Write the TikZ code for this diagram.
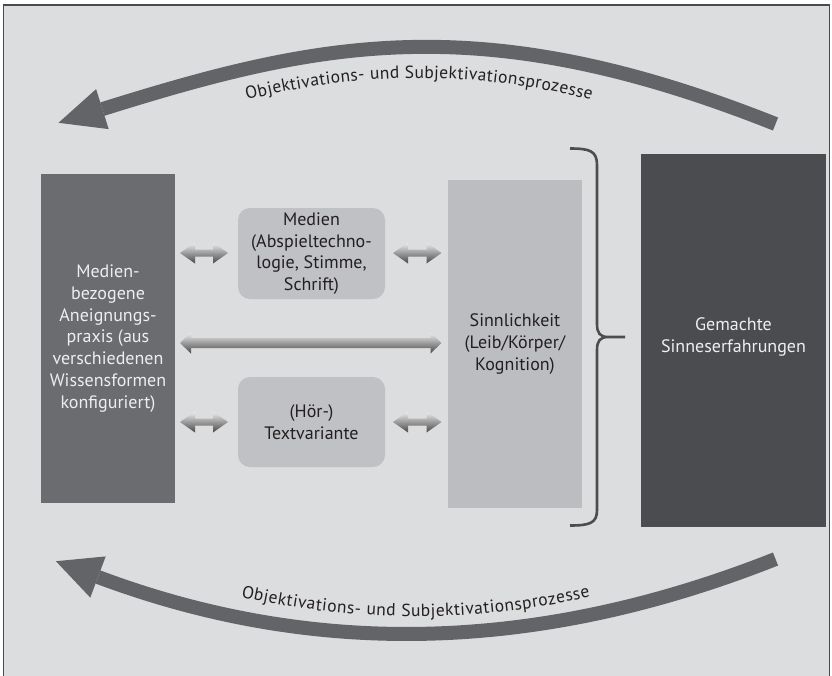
\documentclass[tikz,border=0pt]{standalone}
\usepackage{fontspec}
\setmainfont{PT Sans}
\usetikzlibrary{decorations.text,calc}
\definecolor{bgc}{HTML}{DCDDDF}
\definecolor{framec}{HTML}{4A4A4C}
\definecolor{praxisc}{HTML}{6B6C70}
\definecolor{midc}{HTML}{C0C1C4}
\definecolor{sinnc}{HTML}{BCBDC0}
\definecolor{gemc}{HTML}{4B4C4F}
\definecolor{bigarrc}{HTML}{636467}
\definecolor{bracec}{HTML}{4D4D4F}
\definecolor{txtc}{HTML}{231F20}
\definecolor{lighttxt}{HTML}{EEEEEE}
\newcommand\boxfont{\fontsize{18}{21.7}\selectfont}
\newcommand\dblarr[4]{%
  \shade[dblarrow] let \p1=(#1), \p2=(#2) in
  (\x1,\y1) -- (\x1+#3,\y1+10.5pt) -- (\x1+#3,\y1+#4) -- (\x2-#3,\y1+#4)
  -- (\x2-#3,\y1+10.5pt) -- (\x2,\y1) -- (\x2-#3,\y1-10.5pt) -- (\x2-#3,\y1-#4)
  -- (\x1+#3,\y1-#4) -- (\x1+#3,\y1-10.5pt) -- cycle;}
\begin{document}
\begin{tikzpicture}[x=1pt,y=-1pt,
  box/.style={draw=none, align=center, inner sep=0pt, font=\boxfont, text=txtc},
  bigarrow/.style={draw=bigarrc, line width=14pt},
  dblarrow/.style={top color=white!93!black, middle color=white!74!black, bottom color=white!28!black},
  arctext/.style={decorate, decoration={text along path, text align=fit to path,
     text={|\fontsize{17.5}{20}\selectfont\color{txtc}|Objektivations- und Subjektivationsprozesse}}}]
\useasboundingbox (0,0) rectangle (832,675);
\fill[white] (0,0) rectangle (832,675);
\fill[bgc] (3.5,5) rectangle (829.5,680);
\draw[framec, line width=1.4pt] (3.5,680) -- (3.5,5) -- (829.5,5) -- (829.5,680);

% boxes
\node[box, fill=praxisc, minimum width=134pt, minimum height=329pt, text=lighttxt] (praxis) at (108,338.5)
  {Medien-\\bezogene\\Aneignungs-\\praxis (aus\\verschiedenen\\Wissensformen\\konfiguriert)};
\node[box, fill=midc, rounded corners=12pt, minimum width=147pt, minimum height=91pt] (medien) at (311.5,253.5)
  {Medien\\(Abspieltechno-\\logie, Stimme,\\Schrift)};
\node[box, fill=midc, rounded corners=12pt, minimum width=147pt, minimum height=90pt] (hoer) at (311.5,422)
  {(Hör-)\\Textvariante};
\node[box, fill=sinnc, minimum width=134pt, minimum height=328pt] (sinn) at (515,344)
  {Sinnlichkeit\\(Leib/Körper/\\Kognition)};
\node[box, fill=gemc, minimum width=185pt, minimum height=373pt, text=lighttxt] (gem) at (733.5,340.5) {};
\node[box, text=lighttxt] (gemtext) at (733.5,337) {Gemachte\\Sinneserfahrungen};

% small double arrows
\coordinate (l1a) at (180,253); \coordinate (l1b) at (228,253);
\coordinate (r1a) at (393,253); \coordinate (r1b) at (441.5,253);
\coordinate (l2a) at (180,422); \coordinate (l2b) at (228,422);
\coordinate (r2a) at (393,422); \coordinate (r2b) at (441.5,422);
\coordinate (ma) at (180,343); \coordinate (mb) at (441.5,343);
\dblarr{l1a}{l1b}{15pt}{3.5pt}
\dblarr{r1a}{r1b}{15pt}{3.5pt}
\dblarr{l2a}{l2b}{15pt}{3.5pt}
\dblarr{r2a}{r2b}{15pt}{3.5pt}
\dblarr{ma}{mb}{11pt}{5pt}

% brace
\draw[bracec, line width=2.6pt] (570,148.5) .. controls (590,148.5) and (597,151) .. (597,165)
  -- (597,324) .. controls (597,333) and (600,337) .. (608,337) -- (625,337)
  (608,337) .. controls (600,337) and (597,341) .. (597,350)
  -- (597,510) .. controls (597,523) and (590,525.5) .. (570,525.5);

% big arrows
\coordinate (ttail) at (775.5,124); \coordinate (thead) at (102.4,109.1);
\draw[bigarrow] (ttail) .. controls (480.9,6.8) and (320,40.9) .. (thead);
\fill[bigarrc] (58.5,122.8) -- (108.7,129.1) -- (96.1,89.1) -- cycle;
\coordinate (btail) at (775.5,559); \coordinate (bhead) at (98,577);
\draw[bigarrow] (btail) .. controls (512.6,663.1) and (289.6,648.8) .. (bhead);
\fill[bigarrc] (55.9,561.2) -- (105.7,556.4) -- (90.3,597.6) -- cycle;

% arc labels
\path[arctext] (247,100) .. controls (361.7,70.7) and (476.3,70.7) .. (591,100);
\path[arctext] (241,597) .. controls (357,623) and (473,623) .. (590,597);
\end{tikzpicture}
\end{document}
